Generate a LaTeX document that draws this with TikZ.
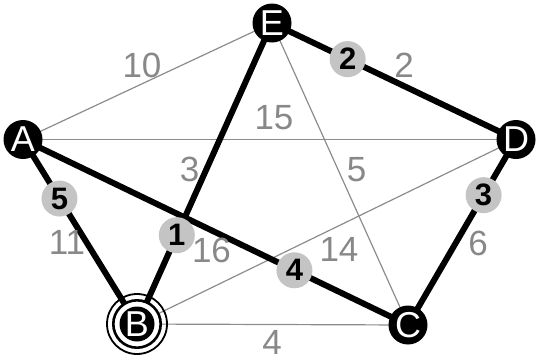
\documentclass[tikz,border=0pt]{standalone}
\usepackage{fontspec}
\setmainfont{Liberation Sans}
\usetikzlibrary{backgrounds}
\definecolor{edgegray}{HTML}{8C8C8C}
\definecolor{labelgray}{HTML}{888888}
\definecolor{badgegray}{HTML}{C4C4C4}
\begin{document}
\begin{tikzpicture}[x=1pt,y=-1pt,
 vertex/.style={circle,fill=black,inner sep=0pt,minimum size=39pt,text=white,font=\fontsize{36}{36}\selectfont},
 startvertex/.style={vertex,minimum size=35pt},
 thinedge/.style={draw=edgegray,line width=1.2pt},
 thickedge/.style={draw=black,line width=6pt},
 badge/.style={circle,fill=badgegray,inner sep=0pt,minimum size=36pt,font=\bfseries\fontsize{31}{31}\selectfont},
 wlabel/.style={text=labelgray,inner sep=0pt,font=\fontsize{35}{35}\selectfont}]
\useasboundingbox (0,0) rectangle (536,360);
\node[vertex] (A) at (23,139.5) {A};
\node[startvertex] (B) at (137,324) {B};
\node[vertex] (C) at (408,325) {C};
\node[vertex] (D) at (516,139.5) {D};
\node[vertex] (E) at (272,23) {E};
\begin{pgfonlayer}{background}
 \draw[thinedge] (A.center) -- (E.center);
 \draw[thinedge] (A.center) -- (D.center);
 \draw[thinedge] (E.center) -- (C.center);
 \draw[thinedge] (B.center) -- (D.center);
 \draw[thinedge] (B.center) -- (C.center);
 \draw[thickedge] (A.center) -- (B.center);
 \draw[thickedge] (A.center) -- (C.center);
 \draw[thickedge] (E.center) -- (B.center);
 \draw[thickedge] (E.center) -- (D.center);
 \draw[thickedge] (D.center) -- (C.center);
 \path (E.center) -- node[badge,pos=0.705]{1} (B.center);
 \path (E.center) -- node[badge,pos=0.31]{2} (D.center);
 \path (D.center) -- node[badge,pos=0.30]{3} (C.center);
 \path (A.center) -- node[badge,pos=0.705]{4} (C.center);
 \path (A.center) -- node[badge,pos=0.32]{5} (B.center);
 \draw[line width=1.8pt] (B.center) circle (30);
 \draw[line width=2.6pt,fill=white] (B.center) circle (23.7);
\end{pgfonlayer}
\node[wlabel] (w10) at (142,65) {10};
\node[wlabel] (w15) at (274,118) {15};
\node[wlabel] (w3) at (189.5,169.5) {3};
\node[wlabel] (w5) at (356.5,169.5) {5};
\node[wlabel] (w2) at (404,65.5) {2};
\node[wlabel] (w6) at (478,243) {6};
\node[wlabel] (w11) at (67,242) {11};
\node[wlabel] (w16) at (211.5,250) {16};
\node[wlabel] (w14) at (339,249.5) {14};
\node[wlabel] (w4) at (272,342) {4};
\end{tikzpicture}
\end{document}
